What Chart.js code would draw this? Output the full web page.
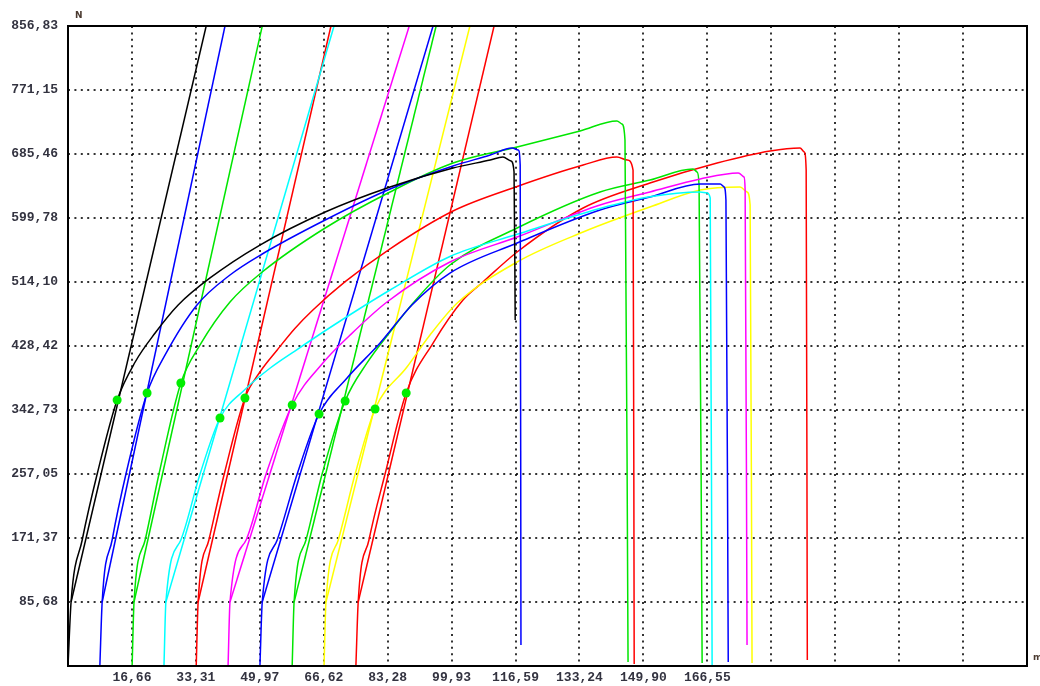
<!DOCTYPE html>
<html lang="en">
<head>
  <meta charset="UTF-8">
  <title>Force / displacement</title>
  <style>
    body { margin: 0; padding: 0; background: #fff; }
    #wrap { width: 1040px; height: 686px; }
  </style>
  <script src="https://cdn.jsdelivr.net/npm/chart.js"></script>
</head>
<body>
  <div id="wrap"><canvas id="chart" width="1040" height="686"></canvas></div>
  <script>
    // axis ticks (N / mm)
    const xTicks = [0, 16.655, 33.31, 49.965, 66.62, 83.275, 99.93, 116.585, 133.24, 149.895, 166.55, 183.205, 199.86, 216.515, 233.17, 249.83];
    const xTickLabels = ['', '16,66', '33,31', '49,97', '66,62', '83,28', '99,93', '116,59', '133,24', '149,90', '166,55', '', '', '', '', ''];
    const yTicks = [0, 85.683, 171.366, 257.049, 342.732, 428.415, 514.098, 599.781, 685.464, 771.147, 856.83];
    const yTickLabels = ['', '85,68', '171,37', '257,05', '342,73', '428,42', '514,10', '599,78', '685,46', '771,15', '856,83'];

    // measured curves, one pair of arrays per specimen
    const s1X = [0, 0.8, 3.7, 7.6, 12.8, 17.5, 22.7, 28.7, 37.0, 50.0, 67.0, 83.9, 100.3, 110.0, 113.3, 115.4, 116.2, 116.5];
    const s1Y = [0, 85.7, 168.7, 257.0, 356.1, 407.0, 445.8, 483.3, 519.5, 563.6, 607.8, 641.3, 666.7, 677.4, 681.4, 676.1, 661.3, 463.2];
    const s2X = [8.3, 8.9, 11.5, 15.1, 20.6, 25.3, 33.6, 42.2, 50.6, 67.0, 83.9, 100.3, 110.0, 115.7, 117.3, 117.8, 118.0];
    const s2Y = [0, 85.7, 168.7, 257.0, 365.5, 416.4, 483.3, 523.5, 551.6, 597.1, 638.6, 669.4, 684.1, 693.5, 690.8, 670.7, 28.1];
    const s3X = [16.7, 17.2, 20.1, 23.7, 29.4, 34.4, 42.2, 50.6, 67.0, 83.9, 100.3, 117.0, 133.4, 143.0, 144.3, 145.1, 145.9];
    const s3Y = [0, 85.7, 168.7, 257.0, 378.9, 429.8, 487.3, 527.5, 586.4, 634.6, 673.4, 694.8, 716.3, 729.7, 725.6, 704.2, 5.4];
    const s4X = [25.0, 25.5, 29.4, 34.4, 39.6, 46.1, 52.6, 59.1, 70.1, 83.9, 99.5, 117.0, 138.6, 151.6, 164.7, 166.5, 167.3, 167.8];
    const s4Y = [0, 85.7, 168.7, 257.0, 332.0, 370.2, 398.6, 421.7, 459.2, 503.4, 548.3, 578.0, 612.5, 628.2, 634.6, 633.3, 626.6, 0];
    const s5X = [33.4, 33.9, 36.7, 40.7, 46.1, 50.0, 54.5, 59.1, 63.8, 72.2, 83.9, 100.3, 117.0, 134.2, 143.0, 145.7, 147.2, 147.5];
    const s5Y = [0, 85.7, 168.7, 257.0, 358.8, 393.6, 423.1, 451.9, 476.6, 514.5, 558.6, 609.2, 642.0, 670.7, 681.4, 677.4, 664.0, 2.7];
    const s6X = [41.7, 42.2, 46.4, 51.6, 58.4, 66.4, 73.5, 83.1, 99.5, 117.0, 138.6, 151.6, 164.7, 174.6, 176.1, 176.4, 176.9];
    const s6Y = [0, 85.7, 168.7, 257.0, 349.4, 405.7, 443.1, 487.3, 540.9, 574.3, 617.2, 634.6, 652.0, 660.0, 654.7, 637.3, 28.1];
    const s7X = [50.0, 50.6, 54.5, 59.7, 65.4, 72.7, 81.3, 89.6, 99.5, 117.0, 138.6, 151.6, 164.7, 169.9, 170.9, 171.4, 172.0];
    const s7Y = [0, 85.7, 168.7, 257.0, 337.4, 385.6, 432.4, 483.3, 526.1, 566.3, 610.5, 627.9, 645.3, 645.3, 641.3, 623.9, 5.4];
    const s8X = [58.4, 58.9, 62.0, 66.2, 72.2, 77.9, 83.9, 89.9, 99.5, 117.0, 138.6, 151.6, 162.8, 163.9, 164.4, 165.2];
    const s8Y = [0, 85.7, 168.7, 257.0, 354.8, 405.7, 447.2, 486.0, 536.9, 586.4, 634.6, 650.6, 665.4, 661.3, 644.0, 4.0];
    const s9X = [66.7, 67.2, 70.4, 74.8, 80.0, 88.3, 94.3, 101.4, 117.0, 134.2, 151.6, 164.7, 175.1, 176.9, 177.7, 178.2];
    const s9Y = [0, 85.7, 168.7, 257.0, 344.1, 400.3, 443.1, 486.0, 540.9, 581.0, 614.5, 637.3, 641.3, 634.6, 617.2, 4.0];
    const s10X = [75.0, 75.6, 78.4, 82.6, 88.1, 95.1, 102.9, 108.1, 117.0, 134.2, 151.6, 169.1, 182.9, 190.7, 191.8, 192.3, 192.6];
    const s10Y = [0, 85.7, 168.7, 257.0, 365.5, 432.4, 490.0, 514.1, 554.3, 613.2, 646.6, 673.4, 689.5, 693.5, 688.1, 664.0, 8.0];

    // offset (modulus) lines: from start point to top of the axis
    const lineStartX = [0.8, 8.9, 17.2, 25.5, 33.9, 42.2, 50.6, 58.9, 67.2, 75.6];
    const lineStartY = [85.7, 85.7, 85.7, 85.7, 85.7, 85.7, 85.7, 85.7, 85.7, 85.7];
    const lineEndX = [36.0, 40.9, 50.6, 69.3, 68.5, 88.9, 95.1, 95.9, 104.7, 111.0];
    const lineEndY = [856.83, 856.83, 856.83, 856.83, 856.83, 856.83, 856.83, 856.83, 856.83, 856.83];

    // yield points
    const yieldX = [12.8, 20.6, 29.4, 39.6, 46.1, 58.4, 65.4, 72.2, 80.0, 88.1];
    const yieldY = [356.1, 365.5, 378.9, 332.0, 358.8, 349.4, 337.4, 354.8, 344.1, 365.5];

    const curvesX = [s1X, s2X, s3X, s4X, s5X, s6X, s7X, s8X, s9X, s10X];
    const curvesY = [s1Y, s2Y, s3Y, s4Y, s5Y, s6Y, s7Y, s8Y, s9Y, s10Y];
    const colors = ['#000000', '#0000ff', '#00e600', '#00ffff', '#ff0000', '#ff00ff', '#0000ff', '#00e600', '#ffff00', '#ff0000'];

    const zip = (xs, ys) => xs.map((x, i) => ({ x: x, y: ys[i] }));

    const datasets = [];
    datasets.push({
      label: 'yield',
      data: zip(yieldX, yieldY),
      showLine: false,
      pointRadius: 4.5,
      pointBackgroundColor: '#00ee00',
      pointBorderWidth: 0,
      order: 0
    });
    curvesX.forEach((xs, i) => {
      datasets.push({
        label: 'curve ' + (i + 1),
        data: zip(xs, curvesY[i]),
        showLine: true,
        borderColor: colors[i],
        borderWidth: 1.5,
        pointRadius: 0,
        cubicInterpolationMode: 'monotone',
        order: 1
      });
      datasets.push({
        label: 'line ' + (i + 1),
        data: [{ x: lineStartX[i], y: lineStartY[i] }, { x: lineEndX[i], y: lineEndY[i] }],
        showLine: true,
        borderColor: colors[i],
        borderWidth: 1.5,
        pointRadius: 0,
        order: 1
      });
    });

    const labelFont = { family: 'Liberation Mono', size: 13, weight: 'bold' };
    const dotGrid = {
      color: (c) => (c.index === 0 || c.index === c.scale.ticks.length - 1) ? 'rgba(0,0,0,0)' : 'rgba(0,0,0,0.8)',
      lineWidth: 2,
      drawTicks: false
    };

    const frame = {
      id: 'frame',
      afterDatasetsDraw(chart) {
        const { ctx, chartArea: a } = chart;
        ctx.save();
        ctx.strokeStyle = '#000';
        ctx.lineWidth = 2;
        ctx.strokeRect(a.left, a.top, a.right - a.left, a.bottom - a.top);
        ctx.fillStyle = '#4a3a30';
        ctx.font = 'bold 9px "DejaVu Sans"';
        ctx.textBaseline = 'middle';
        ctx.fillText('N', a.left + 7, a.top - 10);
        ctx.fillText('mm', a.right + 6, a.bottom - 8);
        ctx.restore();
      }
    };

    new Chart(document.getElementById('chart').getContext('2d'), {
      type: 'scatter',
      data: { datasets: datasets },
      options: {
        responsive: false,
        animation: false,
        layout: { padding: { top: 26, right: 13, left: 0, bottom: 0 } },
        plugins: { legend: { display: false }, tooltip: { enabled: false } },
        scales: {
          x: {
            type: 'linear',
            min: 0,
            max: 249.83,
            afterBuildTicks: (s) => { s.ticks = xTicks.map(v => ({ value: v })); },
            afterFit: (s) => { s.height = 20; },
            ticks: {
              autoSkip: false,
              maxRotation: 0,
              padding: 4,
              color: '#333340',
              font: labelFont,
              callback: (v, i) => xTickLabels[i]
            },
            grid: dotGrid,
            border: { display: false, dash: [2, 4.4] }
          },
          y: {
            type: 'linear',
            min: 0,
            max: 856.83,
            afterBuildTicks: (s) => { s.ticks = yTicks.map(v => ({ value: v })); },
            afterFit: (s) => { s.width = 68; },
            ticks: {
              autoSkip: false,
              padding: 10,
              color: '#333340',
              font: labelFont,
              callback: (v, i) => yTickLabels[i]
            },
            grid: dotGrid,
            border: { display: false, dash: [2, 4.4] }
          }
        }
      },
      plugins: [frame]
    });
  </script>
</body>
</html>
